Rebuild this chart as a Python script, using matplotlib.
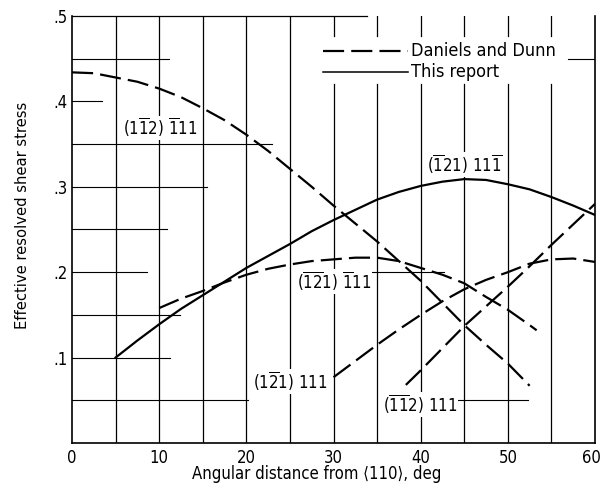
import numpy as np
import matplotlib
matplotlib.use("Agg")
import matplotlib.pyplot as plt
import matplotlib.transforms as mtransforms

# %% data

# (1 -1 2) -1 1 1 , Daniels and Dunn (dashed)
x_a = [0, 2.5, 5, 7.5, 10, 12.5, 15, 17.5, 20, 22.5, 25, 27.5, 30, 32.5, 35, 37.5, 40, 42.5, 45, 47.5, 50, 52.5]
y_a = [.434, .433, .428, .423, .415, .405, .392, .378, .361, .342, .321, .300, .278, .257, .236, .213, .190, .164, .138, .115, .093, .067]

# (-1 -2 1) -1 1 1 (dashed)
x_b = [10, 12.5, 15, 17.5, 20, 22.5, 25, 27.5, 30, 32.5, 35, 37.5, 40, 42.5, 45, 47.5, 50, 52.5, 53.3]
y_b = [.158, .169, .178, .188, .197, .204, .209, .213, .215, .217, .217, .213, .205, .197, .187, .171, .156, .138, .132]

# (-1 2 1) 1 1 -1 , This report (solid)
x_c = [5, 7.5, 10, 12.5, 15, 17.5, 20, 22.5, 25, 27.5, 30, 32.5, 35, 37.5, 40, 42.5, 45, 47.5, 50, 52.5, 55, 57.5, 60]
y_c = [.100, .120, .139, .157, .173, .189, .205, .219, .233, .248, .261, .273, .285, .294, .301, .306, .309, .308, .303, .297, .288, .278, .267]

# (1 -2 1) 1 1 1 (dashed)
x_d = [30, 32.5, 35, 37.5, 40, 42.5, 45, 47.5, 50, 52.5, 55, 57.5, 60]
y_d = [.077, .096, .115, .133, .150, .166, .180, .191, .200, .210, .215, .216, .212]

# (-1 -1 2) 1 1 1 (dashed)
x_e = [38.3, 40, 42.5, 45, 47.5, 50, 52.5, 55, 57.5, 60]
y_e = [.068, .085, .111, .137, .160, .183, .207, .232, .256, .280]

curve_labels = [r"$(1\overline{1}2)\ \overline{1}11$",
                r"$(\overline{1}21)\ 11\overline{1}$",
                r"$(\overline{1}\overline{2}1)\ \overline{1}11$",
                r"$(1\overline{2}1)\ 111$",
                r"$(\overline{1}\overline{1}2)\ 111$"]
label_x = [5.9, 40.7, 25.8, 20.8, 35.7]
label_y = [.369, .326, .189, .072, .045]

xticks = [0, 10, 20, 30, 40, 50, 60]
yticks = [.1, .2, .3, .4, .5]
ytick_labels = [".1", ".2", ".3", ".4", ".5"]

# %% figure

plt.rcParams["font.family"] = ["DejaVu Sans"]
plt.rcParams["font.stretch"] = "condensed"
plt.rcParams["mathtext.fontset"] = "custom"
plt.rcParams["mathtext.rm"] = "DejaVu Sans:stretch=condensed"
plt.rcParams["mathtext.it"] = "DejaVu Sans:stretch=condensed"
plt.rcParams["mathtext.sf"] = "DejaVu Sans:stretch=condensed"

fig = plt.figure(figsize=(6.02, 4.92), dpi=100)
ax = fig.add_axes([0.1196, 0.0996, 0.8688, 0.8679])
ax.set_xlim(0, 60)
ax.set_ylim(0, 0.5)

# hand-drawn looking grid: broken lines
gc = "black"
for xv in range(5, 60, 5):
    if xv < 30:
        ax.plot([xv, xv], [0, 0.5], color=gc, lw=0.9, zorder=1)
    else:
        ax.plot([xv, xv], [0, 0.42], color=gc, lw=0.9, zorder=1)
        ax.plot([xv, xv], [0.477, 0.5], color=gc, lw=0.9, zorder=1)
hsegs = [(.45, 0, 11.1), (.45, 56.9, 60), (.4, 0, 3.4), (.35, 0, 22.9), (.3, 0, 15.5),
         (.25, 0, 10.9), (.2, 0, 8.6), (.2, 34, 42.7), (.15, 0, 12.4), (.1, 0, 11.2),
         (.05, 0, 20.2), (.05, 44, 52.3)]
for yv, x0, x1 in hsegs:
    ax.plot([x0, x1], [yv, yv], color=gc, lw=0.8, zorder=1)
ax.plot([0, 33.8], [0.5, 0.5], color=gc, lw=0.9, zorder=1, clip_on=False)

dash = (0, (9.5, 3.2))
lw = 1.6
ax.plot(x_a, y_a, color="black", lw=lw, ls=dash, zorder=4)
ax.plot(x_b, y_b, color="black", lw=lw, ls=dash, zorder=4)
ax.plot(x_c, y_c, color="black", lw=lw, zorder=4)
ax.plot(x_d, y_d, color="black", lw=lw, ls=dash, zorder=4)
ax.plot(x_e, y_e, color="black", lw=lw, ls=dash, zorder=4)

for s, lx, ly in zip(curve_labels, label_x, label_y):
    ax.text(lx, ly, s, fontsize=12, ha="left", va="center", zorder=3,
            bbox=dict(facecolor="white", edgecolor="none", pad=0.5))

# legend keys
ax.plot([28.8, 38.5], [0.459, 0.459], color="black", lw=lw, ls=dash, zorder=4)
ax.plot([28.8, 38.5], [0.435, 0.435], color="black", lw=1.1, zorder=4)
ax.text(38.9, 0.459, "Daniels and Dunn", fontsize=13, va="center", ha="left")
ax.text(38.9, 0.435, "This report", fontsize=13, va="center", ha="left")

ax.spines["top"].set_visible(False)
for side in ["left", "bottom", "right"]:
    ax.spines[side].set_linewidth(1.2)

ax.set_xticks(xticks)
ax.set_yticks(yticks)
ax.set_yticklabels(ytick_labels)
ax.tick_params(length=0, labelsize=12)
ax.tick_params(axis="x", pad=4)
ax.tick_params(axis="y", pad=3)
ax.set_xlabel("Angular distance from \u27e8110\u27e9, deg", fontsize=12)
ax.set_ylabel("Effective resolved shear stress", fontsize=11.8)
ax.xaxis.set_label_coords(0.468, -0.052)
ax.yaxis.set_label_coords(-0.08, 0.534)

# keep the last x tick label inside the figure
last = ax.get_xticklabels()[-1]
last.set_transform(last.get_transform() + mtransforms.ScaledTranslation(-4 / 100, 0, fig.dpi_scale_trans))

fig.savefig("out.png", dpi=100)
